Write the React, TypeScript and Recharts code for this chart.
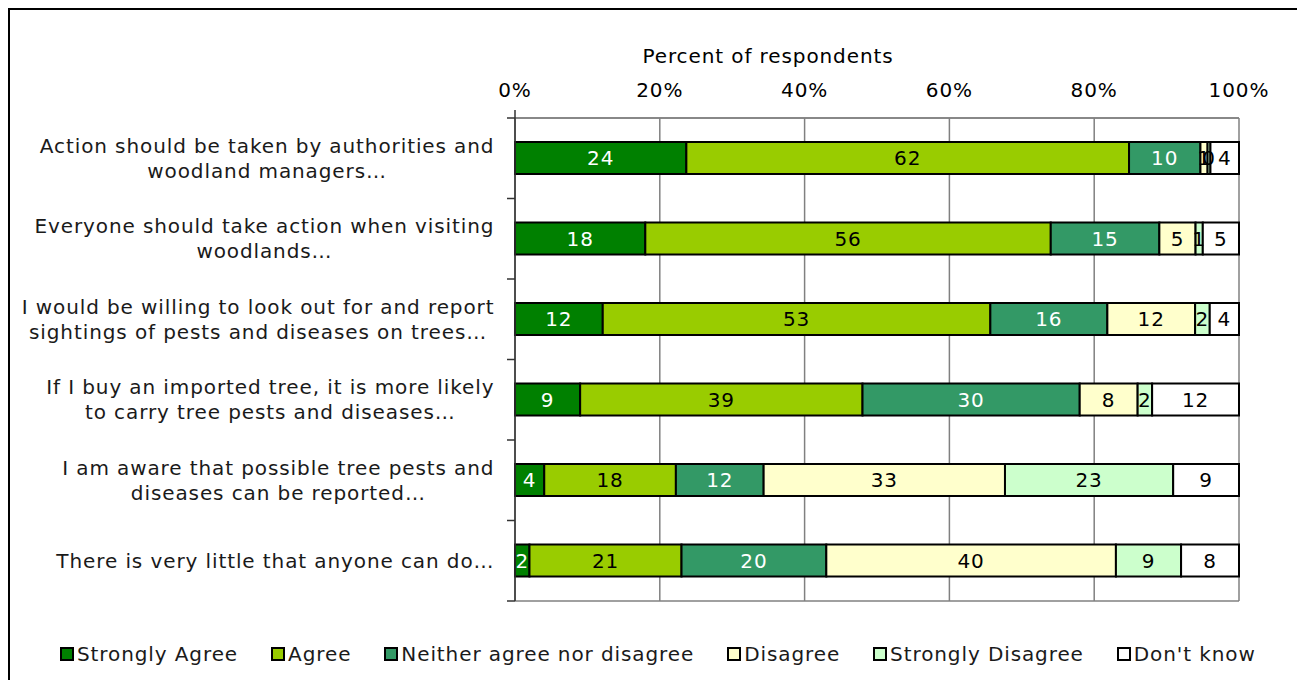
import React from 'react';
import { BarChart, Bar, XAxis, YAxis, CartesianGrid, Legend, LabelList } from 'recharts';

const categories = [
  'Action should be taken by authorities and\nwoodland managers…',
  'Everyone should take action when visiting\nwoodlands…',
  'I would be willing to look out for and report\nsightings of pests and diseases on trees…',
  'If I buy an imported tree, it is more likely\nto carry tree pests and diseases…',
  'I am aware that possible tree pests and\ndiseases can be reported…',
  'There is very little that anyone can do…',
];

const stronglyAgree = [24, 18, 12, 9, 4, 2];
const agree = [62, 56, 53, 39, 18, 21];
const neither = [10, 15, 16, 30, 12, 20];
const disagree = [1, 5, 12, 8, 33, 40];
const stronglyDisagree = [0.4, 1, 2, 2, 23, 9];
const dontKnow = [4, 5, 4, 12, 9, 8];

const xTicks = [0, 0.2, 0.4, 0.6, 0.8, 1];

const seriesKeys = ['sa', 'a', 'n', 'd', 'sd', 'dk'];
const seriesNames = [
  'Strongly Agree',
  'Agree',
  'Neither agree nor disagree',
  'Disagree',
  'Strongly Disagree',
  "Don't know",
];
const seriesColors = ['#008000', '#99CC00', '#339966', '#FFFFCC', '#CCFFCC', '#FFFFFF'];
const labelColors = ['#ffffff', '#000000', '#ffffff', '#000000', '#000000', '#000000'];

const data = categories.map((c, i) => ({
  category: c,
  sa: stronglyAgree[i],
  a: agree[i],
  n: neither[i],
  d: disagree[i],
  sd: stronglyDisagree[i],
  dk: dontKnow[i],
}));

const FONT = '"DejaVu Sans", Verdana, sans-serif';
const FS = 20;
const LS = 0.9;
const CHART_W = 1292;
const CHART_H = 672;
const PLOT_LEFT = 507;
const PLOT_TOP = 110;
const PLOT_W = 724;
const PLOT_H = 483;
const LABEL_RIGHT = 486;
const LINE_H = 25;

let ctx: CanvasRenderingContext2D | null = null;
function measure(t: string): number {
  if (!ctx) {
    const c = document.createElement('canvas');
    ctx = c.getContext('2d');
  }
  if (!ctx) return t.length * FS * 0.52 + t.length * LS;
  ctx.font = `${FS}px "DejaVu Sans"`;
  return ctx.measureText(t).width + (t.length - 1) * LS;
}

const YTick = (props: any) => {
  const { y, payload, index } = props;
  const lines = String(payload.value).split('\n');
  const maxW = Math.max(...lines.map(measure));
  const cx = LABEL_RIGHT - maxW / 2;
  const band = PLOT_H / categories.length;
  return (
    <g>
      {lines.map((l, i) => (
        <text
          key={i}
          x={cx}
          y={y + (i - (lines.length - 1) / 2) * LINE_H}
          textAnchor="middle"
          dominantBaseline="central"
          fontSize={FS}
          letterSpacing={LS}
          fill="#1a1a1a"
          fontFamily={FONT}
        >
          {l}
        </text>
      ))}
      <line x1={PLOT_LEFT - 8} x2={PLOT_LEFT} y1={y - band / 2} y2={y - band / 2} stroke="#333" strokeWidth={1.5} />
      {index === 0 && (
        <line x1={PLOT_LEFT} x2={PLOT_LEFT} y1={y - band / 2 - 8} y2={y - band / 2} stroke="#333" strokeWidth={1.5} />
      )}
      {index === categories.length - 1 && (
        <line x1={PLOT_LEFT - 8} x2={PLOT_LEFT} y1={y + band / 2} y2={y + band / 2} stroke="#333" strokeWidth={1.5} />
      )}
    </g>
  );
};

const LegendContent = () => (
  <div
    style={{
      display: 'flex',
      alignItems: 'center',
      fontSize: FS,
      letterSpacing: LS,
      color: '#1a1a1a',
      fontFamily: FONT,
      whiteSpace: 'nowrap',
    }}
  >
    {seriesNames.map((name, i) => (
      <div key={name} style={{ display: 'flex', alignItems: 'center', marginRight: 33 }}>
        <span
          style={{
            display: 'inline-block',
            width: 14,
            height: 14,
            boxSizing: 'border-box',
            border: '2px solid #000',
            background: seriesColors[i],
            marginRight: 3,
          }}
        />
        <span>{name}</span>
      </div>
    ))}
  </div>
);

export default function App() {
  return (
    <div style={{ position: 'relative', width: CHART_W, height: CHART_H }}>
      <div
        style={{
          position: 'absolute',
          left: 0,
          top: 0,
          width: CHART_W,
          height: CHART_H,
          boxSizing: 'border-box',
          borderTop: '2px solid #000',
          borderLeft: '2px solid #000',
          borderRight: '2px solid #000',
          pointerEvents: 'none',
        }}
      />
      <BarChart
        width={CHART_W}
        height={CHART_H}
        data={data}
        layout="vertical"
        stackOffset="expand"
        margin={{ top: 0, right: CHART_W - PLOT_LEFT - PLOT_W, left: 0, bottom: CHART_H - PLOT_TOP - PLOT_H }}
        style={{ fontFamily: FONT }}
      >
        <CartesianGrid
          vertical={true}
          horizontal={true}
          horizontalPoints={[PLOT_TOP, PLOT_TOP + PLOT_H]}
          stroke="#808080"
          strokeWidth={1.5}
        />
        <XAxis
          type="number"
          orientation="top"
          domain={[0, 1]}
          ticks={xTicks}
          tickFormatter={(v: number) => `${Math.round(v * 100)}%`}
          axisLine={{ stroke: '#808080', strokeWidth: 1.5 }}
          tickLine={false}
          tickSize={0}
          tickMargin={21}
          height={PLOT_TOP}
          tick={{ fontSize: FS, fill: '#000', letterSpacing: LS }}
          interval={0}
          label={{
            value: 'Percent of respondents',
            position: 'insideTop',
            offset: 41,
            dx: -109,
            fontSize: FS,
            fill: '#000',
            letterSpacing: LS,
          }}
        />
        <YAxis
          type="category"
          dataKey="category"
          width={PLOT_LEFT}
          axisLine={{ stroke: '#333', strokeWidth: 1.5 }}
          tickLine={false}
          tick={<YTick />}
          interval={0}
        />
        <Legend
          verticalAlign="middle"
          align="center"
          layout="horizontal"
          wrapperStyle={{ left: 52, top: 634, width: 1236, height: 22 }}
          content={() => <LegendContent />}
        />
        {seriesKeys.map((k, i) => (
          <Bar
            key={k}
            dataKey={k}
            name={seriesNames[i]}
            stackId="s"
            fill={seriesColors[i]}
            stroke="#000"
            strokeWidth={2}
            barSize={32}
            isAnimationActive={false}
          >
            <LabelList
              dataKey={k}
              position="center"
              fill={labelColors[i]}
              fontSize={FS}
              letterSpacing={LS}
              formatter={(v: any) => String(Math.round(Number(v)))}
            />
          </Bar>
        ))}
      </BarChart>
    </div>
  );
}
